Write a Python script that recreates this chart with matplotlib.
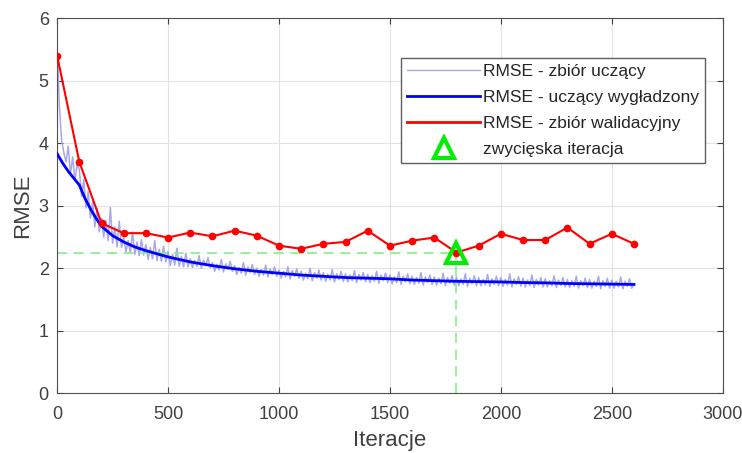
import matplotlib
matplotlib.use('Agg')
import matplotlib.pyplot as plt
from matplotlib.lines import Line2D

plt.rcParams['font.family'] = ['Liberation Sans', 'DejaVu Sans']

# walidacja co 100 iteracji
val_iters = list(range(0, 2700, 100))
val_rmse = [5.40, 3.70, 2.72, 2.56, 2.56, 2.49, 2.57, 2.51, 2.60, 2.52,
            2.36, 2.31, 2.39, 2.42, 2.60, 2.36, 2.44, 2.49, 2.25, 2.36,
            2.55, 2.45, 2.45, 2.65, 2.39, 2.55, 2.39]

# wygladzony RMSE uczacy
smooth_iters = [0, 25, 50, 75, 100, 125, 150, 175, 200, 250, 300, 350, 400, 450,
                500, 600, 700, 800, 900, 1000, 1100, 1200, 1300, 1400, 1500,
                1600, 1700, 1800, 1900, 2000, 2100, 2200, 2300, 2400, 2500, 2600]
smooth_rmse = [3.83, 3.68, 3.55, 3.44, 3.33, 3.12, 2.95, 2.80, 2.67, 2.52, 2.42,
               2.34, 2.28, 2.23, 2.18, 2.10, 2.04, 1.99, 1.95, 1.92, 1.89, 1.87,
               1.85, 1.84, 1.83, 1.81, 1.80, 1.79, 1.785, 1.78, 1.77, 1.765,
               1.755, 1.75, 1.745, 1.74]

# surowy RMSE uczacy, co 10 iteracji
raw_iters = list(range(0, 2610, 10))
raw_rmse = [
    5.55, 4.60, 4.05, 3.85, 3.70, 3.95, 3.50, 3.78, 3.40, 3.66,
    3.58, 3.15, 3.42, 2.96, 3.22, 2.80, 3.06, 2.66, 2.96, 2.58,
    2.80, 2.50, 2.76, 2.44, 2.97, 2.40, 2.66, 2.34, 2.75, 2.33,
    2.50, 2.26, 2.44, 2.24, 2.58, 2.22, 2.42, 2.20, 2.46, 2.21,
    2.38, 2.14, 2.33, 2.15, 2.44, 2.12, 2.30, 2.11, 2.35, 2.10,
    2.27, 2.04, 2.22, 2.05, 2.32, 2.03, 2.19, 2.02, 2.24, 2.02,
    2.15, 2.01, 2.12, 2.03, 2.20, 2.00, 2.13, 2.04, 2.17, 2.01,
    2.09, 1.95, 2.06, 1.97, 2.14, 1.94, 2.07, 1.98, 2.11, 1.95,
    2.04, 1.90, 2.01, 1.92, 2.09, 1.89, 2.02, 1.93, 2.06, 1.90,
    2.00, 1.87, 1.98, 1.89, 2.05, 1.86, 1.99, 1.90, 2.02, 1.87,
    1.97, 1.84, 1.95, 1.86, 2.02, 1.83, 1.96, 1.87, 1.99, 1.84,
    1.95, 1.81, 1.92, 1.83, 2.00, 1.80, 1.93, 1.84, 1.97, 1.81,
    1.93, 1.79, 1.90, 1.81, 1.98, 1.78, 1.91, 1.82, 1.95, 1.79,
    1.91, 1.78, 1.89, 1.80, 1.96, 1.77, 1.90, 1.81, 1.93, 1.78,
    1.90, 1.77, 1.88, 1.79, 1.95, 1.76, 1.89, 1.80, 1.92, 1.77,
    1.89, 1.75, 1.86, 1.77, 1.94, 1.74, 1.87, 1.78, 1.91, 1.75,
    1.87, 1.74, 1.85, 1.76, 1.93, 1.73, 1.86, 1.77, 1.89, 1.74,
    1.86, 1.73, 1.84, 1.75, 1.92, 1.72, 1.85, 1.76, 1.88, 1.73,
    1.86, 1.72, 1.83, 1.74, 1.91, 1.71, 1.84, 1.75, 1.88, 1.72,
    1.85, 1.72, 1.82, 1.73, 1.90, 1.71, 1.83, 1.74, 1.87, 1.72,
    1.85, 1.71, 1.82, 1.73, 1.91, 1.70, 1.83, 1.74, 1.86, 1.71,
    1.84, 1.70, 1.81, 1.72, 1.89, 1.69, 1.82, 1.73, 1.85, 1.70,
    1.83, 1.70, 1.80, 1.72, 1.88, 1.69, 1.81, 1.72, 1.85, 1.70,
    1.82, 1.69, 1.80, 1.71, 1.87, 1.68, 1.80, 1.72, 1.84, 1.69,
    1.82, 1.68, 1.79, 1.71, 1.87, 1.67, 1.80, 1.71, 1.84, 1.68,
    1.81, 1.68, 1.79, 1.70, 1.86, 1.67, 1.79, 1.71, 1.83, 1.68,
    1.74]

best_iter = 1800
best_rmse = 2.25

labels = ['RMSE - zbiór uczący', 'RMSE - uczący wygładzony',
          'RMSE - zbiór walidacyjny', 'zwycięska iteracja']

raw_col = '#a8a8ea'
fig = plt.figure(figsize=(7.42, 4.53), dpi=100)
ax = fig.add_axes([0.077, 0.132, 0.897, 0.828])

ax.plot(raw_iters, raw_rmse, color=raw_col, lw=1.1, zorder=2)
ax.plot(smooth_iters, smooth_rmse, color='#0000ff', lw=2, zorder=3)
ax.plot(val_iters, val_rmse, color='#ff0000', lw=1.5, marker='.', markersize=9,
        zorder=4)

# linie pomocnicze do zwycieskiej iteracji
ax.plot([0, best_iter], [best_rmse, best_rmse], color='#88ee88', lw=1.2,
        ls=(0, (6, 4)), zorder=2)
ax.plot([best_iter, best_iter], [0, best_rmse], color='#88ee88', lw=1.2,
        ls=(0, (6, 4)), zorder=2)
ax.plot([best_iter], [best_rmse], ls='none', marker='^', markersize=15,
        markerfacecolor='none', markeredgecolor='#00ee00', markeredgewidth=3,
        zorder=5)

ax.set_xlim(0, 3000)
ax.set_ylim(0, 6)
ax.set_xticks(range(0, 3001, 500))
ax.set_yticks(range(0, 7))
ax.grid(True, color='#e2e2e2', lw=0.8)
ax.set_axisbelow(True)
ax.tick_params(direction='in', top=True, right=True, labelsize=13,
               colors='#404040', length=4)
ax.tick_params(axis='x', pad=9)
ax.tick_params(axis='y', pad=6)
for s in ax.spines.values():
    s.set_color('#505050')
ax.set_xlabel('Iteracje', fontsize=16, color='#404040', labelpad=5)
ax.set_ylabel('RMSE', fontsize=16, color='#404040', labelpad=4)

handles = [Line2D([], [], color=raw_col, lw=1),
           Line2D([], [], color='#0000ff', lw=2),
           Line2D([], [], color='#ff0000', lw=2),
           Line2D([], [], ls='none', marker='^', markersize=14,
                  markerfacecolor='none', markeredgecolor='#00ee00',
                  markeredgewidth=3)]
leg = ax.legend(handles, labels, loc='upper right', bbox_to_anchor=(0.973, 0.893),
                fontsize=12.5, handlelength=4.2, handletextpad=0.15,
                borderpad=0.35, labelspacing=0.62, borderaxespad=0,
                fancybox=False, framealpha=1, edgecolor='#606060')
for t in leg.get_texts():
    t.set_color('#262626')

fig.savefig('out.png', dpi=100)
